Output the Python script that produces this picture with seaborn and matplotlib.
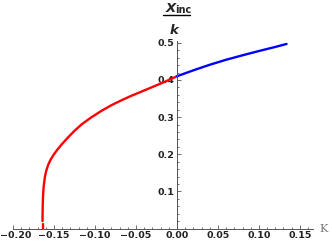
import numpy as np
import pandas as pd
import matplotlib
matplotlib.use('Agg')
import matplotlib.pyplot as plt
import matplotlib.transforms as mtransforms
import seaborn as sns
from matplotlib.lines import Line2D
from matplotlib.ticker import MultipleLocator

# data
red_x = [-0.1640, -0.1639, -0.1637, -0.1633, -0.1625, -0.1610, -0.1595, -0.1570,
         -0.1540, -0.1500, -0.1460, -0.1400, -0.1330, -0.1250, -0.1160, -0.1040,
         -0.0920, -0.0800, -0.0680, -0.0560, -0.0430, -0.0300, -0.0150, 0.0000]
red_y = [0.020, 0.040, 0.065, 0.090, 0.115, 0.140, 0.155, 0.172,
         0.186, 0.200, 0.212, 0.228, 0.245, 0.263, 0.281, 0.300,
         0.317, 0.332, 0.345, 0.357, 0.369, 0.381, 0.395, 0.410]
red_tail_x = [-0.1640, -0.1640]
red_tail_y = [0.000, 0.013]
blue_x = [0.000, 0.020, 0.040, 0.060, 0.080, 0.100, 0.120, 0.1337]
blue_y = [0.410, 0.426, 0.441, 0.4545, 0.4665, 0.478, 0.489, 0.497]

x_ticks = [-0.20, -0.15, -0.10, -0.05, 0.00, 0.05, 0.10, 0.15]
x_labels = ['\u22120.20', '\u22120.15', '\u22120.10', '\u22120.05', '0.00', '0.05', '0.10', '0.15']
y_ticks = [0.1, 0.2, 0.3, 0.4, 0.5]
y_labels = ['0.1', '0.2', '0.3', '0.4', '0.5']

sns.set_style('white')
plt.rcParams['font.family'] = ['DejaVu Sans']

W, H = 332, 245
def px(x, y):
    return x / W, 1 - y / H

fig = plt.figure(figsize=(W / 100, H / 100), dpi=100)
ax = fig.add_axes([13 / W, 16.5 / H, 300 / W, (228.5 - 41) / H])

sns.lineplot(x=red_x, y=red_y, sort=False, estimator=None, color='#ff0000', lw=1.7, ax=ax)
sns.lineplot(x=red_tail_x, y=red_tail_y, sort=False, estimator=None, color='#ff0000', lw=1.7, ax=ax)
sns.lineplot(x=blue_x, y=blue_y, sort=False, estimator=None, color='#0000ff', lw=1.7, ax=ax)

ax.set_xlim(-0.197, 0.166)
ax.set_ylim(0, 0.505)
for s in ['top', 'right']:
    ax.spines[s].set_visible(False)
ax.spines['left'].set_position(('data', 0))
for s in ['left', 'bottom']:
    ax.spines[s].set_color('#555555')
    ax.spines[s].set_linewidth(0.7)

ax.set_xticks(x_ticks)
ax.set_xticklabels(x_labels)
ax.set_yticks(y_ticks)
ax.set_yticklabels(y_labels)
ax.xaxis.set_minor_locator(MultipleLocator(0.01))
ax.yaxis.set_minor_locator(MultipleLocator(0.02))
ax.tick_params(which='both', direction='in', color='#555555', width=0.6,
               bottom=True, left=True)
ax.tick_params(which='major', length=3.2, labelsize=6.8, pad=2)
ax.tick_params(which='minor', length=1.6)
for lab in ax.get_xticklabels() + ax.get_yticklabels():
    lab.set_fontweight('bold')
    lab.set_color('#222222')
# keep the leftmost label inside the picture
first = ax.get_xticklabels()[0]
first.set_transform(first.get_transform() +
                    mtransforms.ScaledTranslation(2.5 / 100, 0, fig.dpi_scale_trans))
ax.set_xlabel('')
ax.set_ylabel('')

# fraction label at the top of the y axis
fig.text(*px(171, 8), 'X', fontsize=9.5, fontweight='bold', fontstyle='italic',
         ha='center', va='center')
fig.text(*px(183, 10), 'inc', fontsize=7, fontweight='bold', ha='center', va='center')
fig.add_artist(Line2D([163 / W, 190 / W], [1 - 15.5 / H, 1 - 15.5 / H],
                      color='black', lw=1.0))
fig.text(*px(174, 30), 'k', fontsize=9.5, fontweight='bold', fontstyle='italic',
         ha='center', va='center')

# axis label on the right
fig.text(*px(324, 229), 'K', fontsize=8, family=['DejaVu Serif'], color='#777777',
         ha='center', va='center')

fig.savefig('out.png', dpi=100)
